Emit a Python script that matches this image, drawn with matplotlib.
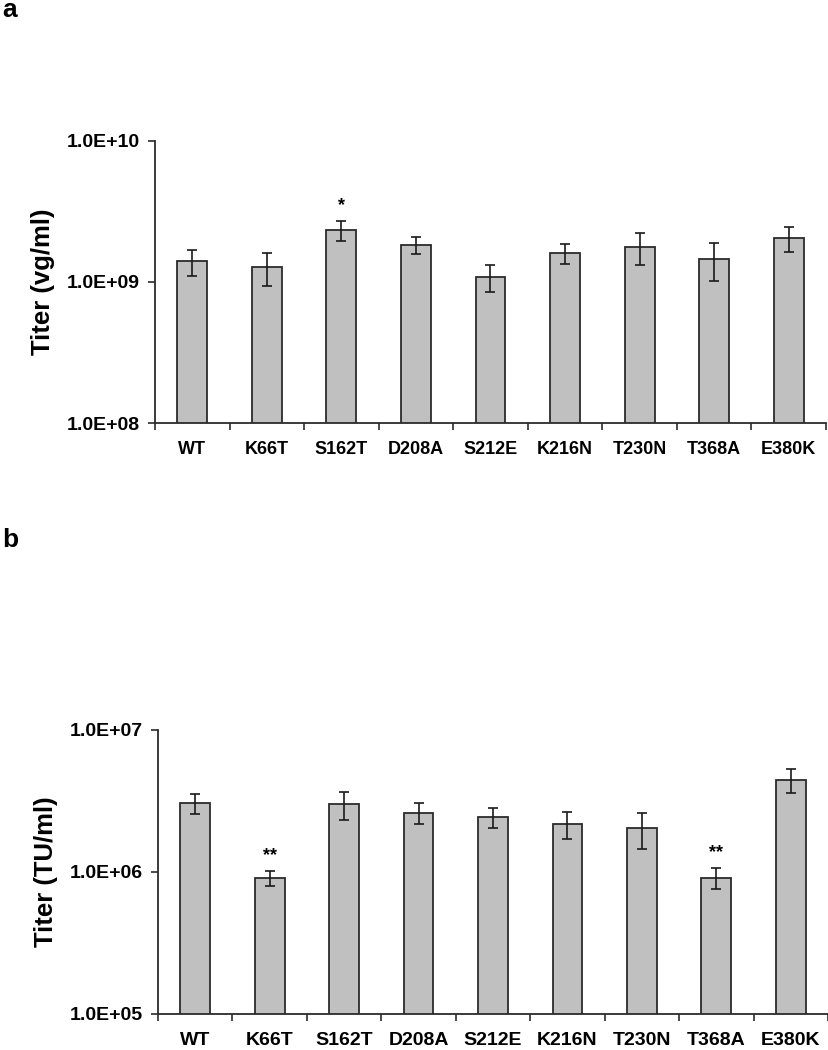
import matplotlib
matplotlib.use("Agg")
import matplotlib.pyplot as plt
import numpy as np

# shared categories
mutants = ["WT", "K66T", "S162T", "D208A", "S212E", "K216N", "T230N", "T368A", "E380K"]

# panel a: genome titer (vg/ml)
titer_vg = [1.40e9, 1.27e9, 2.33e9, 1.84e9, 1.08e9, 1.60e9, 1.77e9, 1.45e9, 2.04e9]
err_vg = [0.29e9, 0.33e9, 0.37e9, 0.25e9, 0.23e9, 0.26e9, 0.45e9, 0.44e9, 0.40e9]
stars_vg = ["", "", "*", "", "", "", "", "", ""]

# panel b: transducing titer (TU/ml)
titer_tu = [3.06e6, 0.91e6, 2.99e6, 2.62e6, 2.42e6, 2.19e6, 2.03e6, 0.91e6, 4.47e6]
err_tu = [0.50e6, 0.11e6, 0.68e6, 0.45e6, 0.39e6, 0.47e6, 0.57e6, 0.15e6, 0.86e6]
stars_tu = ["", "**", "", "", "", "", "", "**", ""]

plt.rcParams['font.family'] = ['Liberation Sans', 'DejaVu Sans']

fig = plt.figure(figsize=(8.29, 10.5), dpi=100)

EDGE = "#2b2b2b"


def draw_panel(ax, vals, errs, stars, ylim, yticklabels, ylabel, xfamily, xsize):
    x = np.arange(len(mutants))
    ax.bar(x, vals, width=0.4, color="#c0c0c0", edgecolor=EDGE, linewidth=1.3, zorder=2)
    ax.errorbar(x, vals, yerr=errs, fmt="none", ecolor="#1a1a1a", elinewidth=1.2,
                capsize=3.5, capthick=1.2, zorder=3)
    for xi, v, e, s in zip(x, vals, errs, stars):
        if s:
            ax.annotate(s, (xi, v + e), xytext=(0, 5), textcoords="offset points",
                        ha="center", va="bottom", fontsize=13, fontweight="bold")
    ax.set_yscale("log")
    ax.set_ylim(*ylim)
    ax.set_xlim(-0.5, len(mutants) - 0.5)
    ax.minorticks_off()
    ax.set_yticks([ylim[0], ylim[0] * 10, ylim[1]])
    ax.set_yticklabels(yticklabels, fontsize=14, fontweight="bold")
    # category labels without ticks, boundary ticks as minor
    ax.set_xticks(x)
    ax.set_xticklabels(mutants, fontsize=xsize, fontweight="bold", family=xfamily)
    ax.tick_params(axis="x", which="major", length=0, pad=13)
    ax.set_xticks(np.arange(-0.5, len(mutants)), minor=True)
    ax.tick_params(axis="x", which="minor", length=5, width=1.2, color=EDGE, direction="out")
    ax.tick_params(axis="y", which="major", length=5, width=1.2, color=EDGE, pad=6)
    for sp in ["top", "right"]:
        ax.spines[sp].set_visible(False)
    for sp in ["left", "bottom"]:
        ax.spines[sp].set_color(EDGE)
        ax.spines[sp].set_linewidth(1.3)
    ax.set_ylabel(ylabel, fontsize=18.5, fontweight="bold", labelpad=8)


ax1 = fig.add_axes([155 / 829, 1 - 423.3 / 1050, 671 / 829, (423.3 - 140.7) / 1050])
draw_panel(ax1, titer_vg, err_vg, stars_vg, (1e8, 1e10),
           ["1.0E+08", "1.0E+09", "1.0E+10"], "Titer (vg/ml)",
           ["Liberation Sans Narrow", "Liberation Sans"], 13)

ax2 = fig.add_axes([158 / 829, 1 - 1014 / 1050, 670 / 829, (1014 - 730) / 1050])
draw_panel(ax2, titer_tu, err_tu, stars_tu, (1e5, 1e7),
           ["1.0E+05", "1.0E+06", "1.0E+07"], "Titer (TU/ml)",
           ["Liberation Sans", "DejaVu Sans"], 14)

fig.text(2 / 829, 1 - 10 / 1050, "a", fontsize=19, fontweight="bold", va="center", ha="left")
fig.text(2 / 829, 1 - 540 / 1050, "b", fontsize=19, fontweight="bold", va="center", ha="left")

fig.savefig("out.png", dpi=100)
